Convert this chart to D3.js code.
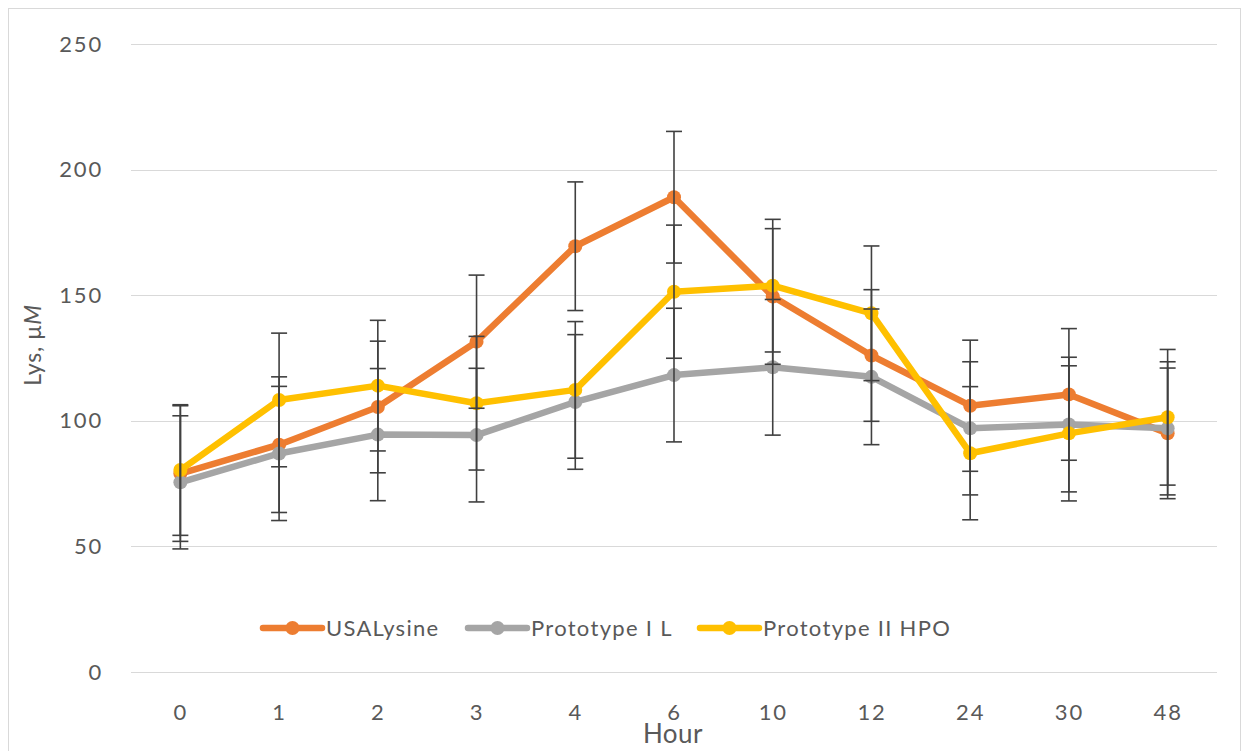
<!DOCTYPE html>
<html>
<head>
<meta charset="utf-8">
<script src="https://cdn.jsdelivr.net/npm/d3@7"></script>
<style>
  body { margin: 0; background: #fff; }
  text { font-family: Lato, "Open Sans", sans-serif; fill: #595959; }
</style>
</head>
<body>
<svg id="chart" width="1244" height="751"></svg>
<script>
const hours = ["0", "1", "2", "3", "4", "6", "10", "12", "24", "30", "48"];
const seriesNames = ["USALysine", "Prototype I L", "Prototype II HPO"];
const usaLysine = [79, 90.5, 105.5, 131.5, 169.5, 189, 149.5, 126, 106, 110.5, 95];
const usaLysineErr = [27, 27, 26.2, 26.5, 25.6, 26.2, 27, 26.2, 26.1, 26.2, 26];
const protoIL = [75.5, 87, 94.5, 94.3, 107.5, 118.2, 121.3, 117.5, 97, 98.5, 97];
const protoILErr = [26.5, 26.7, 26.3, 26.6, 26.8, 26.6, 27, 27, 26.5, 26.8, 26.5];
const protoIIHPO = [80.4, 108.3, 114, 107, 112.3, 151.4, 153.8, 142.8, 87.1, 95, 101.4];
const protoIIHPOErr = [26, 26.6, 26, 26.6, 27.2, 26.5, 26.4, 26.8, 26.5, 26.9, 27];
const yTicks = [0, 50, 100, 150, 200, 250];

const colors = ["#ED7D31", "#A5A5A5", "#FFC000"];
const series = [
  { name: seriesNames[0], values: usaLysine, err: usaLysineErr, color: colors[0] },
  { name: seriesNames[1], values: protoIL, err: protoILErr, color: colors[1] },
  { name: seriesNames[2], values: protoIIHPO, err: protoIIHPOErr, color: colors[2] },
];

const svg = d3.select("#chart");

// outer chart border
svg.append("rect")
  .attr("x", 8.5).attr("y", 8.5)
  .attr("width", 1232).attr("height", 760)
  .attr("fill", "none").attr("stroke", "#D9D9D9");

const x = d3.scalePoint().domain(hours).range([131, 1217]).padding(0.5);
const y = d3.scaleLinear().domain([0, 250]).range([672, 44]);

// gridlines
svg.append("g")
  .selectAll("line")
  .data(yTicks)
  .join("line")
  .attr("x1", 131).attr("x2", 1217)
  .attr("y1", (d) => Math.round(y(d)) + 0.5)
  .attr("y2", (d) => Math.round(y(d)) + 0.5)
  .attr("stroke", "#D9D9D9").attr("stroke-width", 1.2);

// y axis labels
const yAxis = svg.append("g")
  .attr("transform", "translate(103,0)")
  .call(d3.axisLeft(y).tickValues(yTicks).tickSize(0).tickPadding(0));
yAxis.select(".domain").remove();
yAxis.selectAll("text")
  .attr("font-size", 22).attr("letter-spacing", 1.8)
  .attr("fill", "#595959").attr("font-family", "Lato");

// x axis labels
const xAxis = svg.append("g")
  .attr("transform", "translate(0,704)")
  .call(d3.axisBottom(x).tickSize(0).tickPadding(0));
xAxis.select(".domain").remove();
xAxis.selectAll("text")
  .attr("font-size", 22).attr("letter-spacing", 1.8)
  .attr("fill", "#595959").attr("font-family", "Lato");

// axis titles
svg.append("text")
  .attr("x", 673).attr("y", 743)
  .attr("text-anchor", "middle")
  .attr("font-size", 26).attr("letter-spacing", 0.5)
  .text("Hour");

const yTitle = svg.append("text")
  .attr("transform", "translate(41,345) rotate(-90)")
  .attr("text-anchor", "middle")
  .attr("font-size", 23).attr("letter-spacing", 0.8);
yTitle.append("tspan").text("Lys, μ");
yTitle.append("tspan").attr("font-style", "italic").text("M");

// lines and markers
const line = d3.line()
  .x((d, i) => x(hours[i]))
  .y((d) => y(d));

series.forEach((s) => {
  const g = svg.append("g");
  g.append("path")
    .datum(s.values)
    .attr("d", line)
    .attr("fill", "none")
    .attr("stroke", s.color)
    .attr("stroke-width", 6.5)
    .attr("stroke-linejoin", "round");
  g.selectAll("circle")
    .data(s.values)
    .join("circle")
    .attr("cx", (d, i) => x(hours[i]))
    .attr("cy", (d) => y(d))
    .attr("r", 7)
    .attr("fill", s.color);
});

// error bars on top
const capW = 8;
series.forEach((s) => {
  const g = svg.append("g").attr("stroke", "#404040").attr("stroke-width", 1.6);
  s.values.forEach((v, i) => {
    const cx = x(hours[i]);
    const top = y(v + s.err[i]);
    const bot = y(v - s.err[i]);
    g.append("line").attr("x1", cx).attr("x2", cx).attr("y1", top).attr("y2", bot);
    g.append("line").attr("x1", cx - capW).attr("x2", cx + capW).attr("y1", top).attr("y2", top);
    g.append("line").attr("x1", cx - capW).attr("x2", cx + capW).attr("y1", bot).attr("y2", bot);
  });
});

// legend
const legendX = [263, 468, 700];
const legendY = 628;
series.forEach((s, i) => {
  const g = svg.append("g").attr("transform", `translate(${legendX[i]},${legendY})`);
  g.append("line").attr("x1", 0).attr("x2", 59).attr("y1", 0).attr("y2", 0)
    .attr("stroke", s.color).attr("stroke-width", 6.5).attr("stroke-linecap", "round");
  g.append("circle").attr("cx", 29.5).attr("cy", 0).attr("r", 7).attr("fill", s.color);
  g.append("text").attr("x", 63).attr("y", 7.5)
    .attr("font-size", 22).attr("letter-spacing", 1.3)
    .text(s.name);
});
</script>
</body>
</html>
